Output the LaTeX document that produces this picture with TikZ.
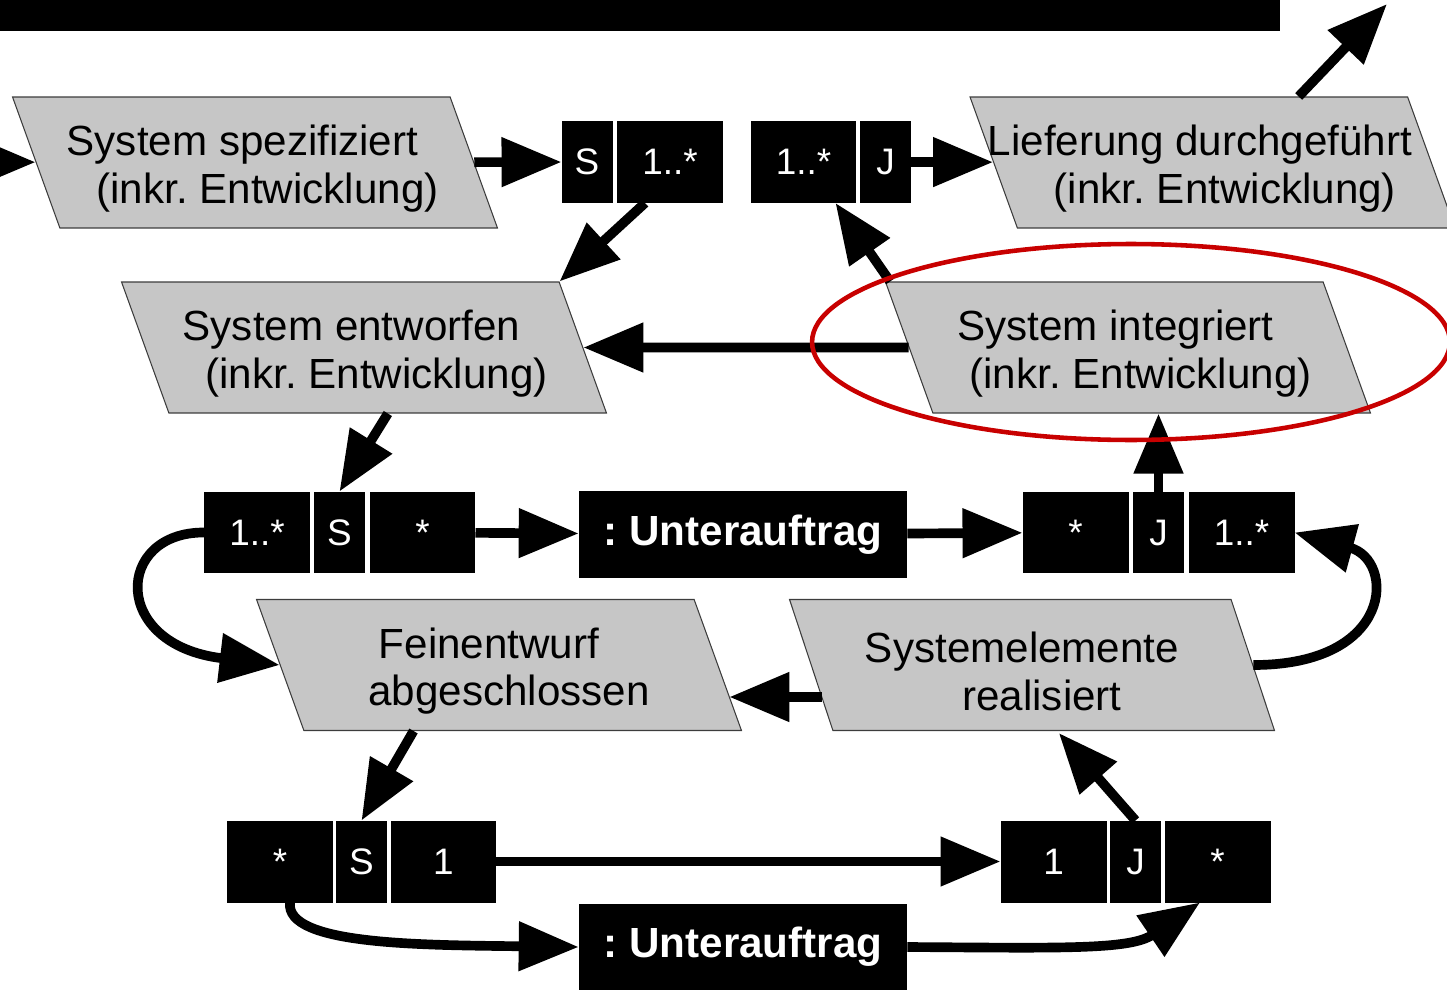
\documentclass[tikz,border=0pt]{standalone}
\usepackage{fontspec}
\setmainfont{Liberation Sans}
\usetikzlibrary{arrows.meta,shapes.geometric,calc}
\definecolor{pgray}{RGB}{198,198,198}
\definecolor{pedge}{RGB}{60,60,60}
\definecolor{hlred}{RGB}{200,0,0}
\frenchspacing
% two text lines, the first shifted left, the second right, as in the slanted boxes
\newcommand\plines[3]{\makebox[7cm]{\rule{0pt}{24.5pt}#1\hspace*{#3}\null}\\\makebox[7cm]{\hspace*{#3}#2}}
\begin{document}
\begin{tikzpicture}[x=0.02cm,y=-0.02cm,
  para/.style={trapezium, trapezium left angle=115.5, trapezium right angle=64.5,
    trapezium stretches body=true, minimum width=9.7cm, minimum height=2.62cm,
    inner sep=0pt, fill=pgray, draw=pedge, line width=0.6pt, align=center,
    font=\fontsize{24}{27}\selectfont},
  cell/.style={fill=black, text=white, minimum height=1.64cm, inner sep=0pt,
    outer sep=0pt, font=\fontsize{21}{24}\selectfont},
  wide/.style={cell, minimum width=2.12cm},
  narrow/.style={cell, minimum width=1.02cm},
  sub/.style={fill=black, text=white, minimum width=6.56cm, minimum height=1.74cm,
    inner sep=0pt, font=\bfseries\fontsize{24}{28}\selectfont},
  arr/.style={line width=5.5pt, -{Triangle[length=1.2cm,width=0.95cm]}},
  hlring/.style={ellipse, draw=hlred, line width=2.6pt, minimum width=12.76cm,
    minimum height=3.92cm, inner sep=0pt},
]
\useasboundingbox (0,0) rectangle (1447,990);
\clip (0,0) rectangle (1447,990);

% top bar
\fill[black] (0,0) rectangle (1280,31);

% parallelograms
\node[para] (p1) at (255,162.5) {\plines{System spezifiziert}{(inkr. Entwicklung)}{0.5cm}};
\node[para] (p2) at (1212.5,162.5) {\plines{Lieferung durchgeführt}{(inkr. Entwicklung)}{0.5cm}};
\node[para] (p3) at (364,347.5) {\plines{System entworfen}{(inkr. Entwicklung)}{0.5cm}};
\node[para] (p4) at (1128,347.5) {\plines{System integriert}{(inkr. Entwicklung)}{0.5cm}};
\node[para] (p5) at (499,665) {\plines{Feinentwurf}{abgeschlossen}{0.4cm}};
\node[para] (p6) at (1032,665) {\plines{Systemelemente}{realisiert}{0.4cm}};

% cell groups
\node[narrow] (g1s) at (587,162) {S};
\node[wide]   (g1a) at (670,162) {1..*};

\node[wide]   (g2a) at (803.5,162) {1..*};
\node[narrow] (g2j) at (885.5,162) {J};

\node[wide]   (g3a) at (257,532.5) {1..*};
\node[narrow] (g3s) at (339.5,532.5) {S};
\node[wide]   (g3c) at (422.5,532.5) {*};

\node[wide]   (g4a) at (1075.5,532.5) {*};
\node[narrow] (g4j) at (1158.5,532.5) {J};
\node[wide]   (g4b) at (1241.5,532.5) {1..*};

\node[wide]   (g5a) at (280,861.5) {*};
\node[narrow] (g5s) at (361.5,861.5) {S};
\node[wide]   (g5c) at (443.5,861.5) {1};

\node[wide]   (g6a) at (1053.5,861.5) {1};
\node[narrow] (g6j) at (1135.5,861.5) {J};
\node[wide]   (g6b) at (1217.5,861.5) {*};

% subcontract boxes
\node[sub] (u1) at (743,534.5) {: Unterauftrag};
\node[sub] (u2) at (743,947) {: Unterauftrag};

% free ends
\coordinate (in0) at (-80,162);
\coordinate (out17) at (1387,4);

% connectors
\draw[arr] (in0) -- (p1);
\draw[arr] (p1) -- (g1s);
\draw[arr] (g2j) -- (p2);
\draw[arr] ($(p2.top side)+(110,0)$) -- (out17);
\draw[arr] ([xshift=-0.5cm]g1a.south) -- (p3.top right corner);
\draw[arr] (p4) -- (p3);
\draw[arr] ([xshift=3pt]p4.top left corner) -- ([xshift=0.64cm]g2a.south);
\draw[arr] (p3.bottom side) -- (g3s.north);
\draw[arr] (g3c) -- (u1);
\draw[arr] (u1) -- (g4a);
\draw[arr] (g4j.north) -- (g4j.north |- p4.bottom side);
\draw[arr] (g3a.west) .. controls (115,532) and (110,645) .. (p5.left side);
\draw[arr] ($(p6.left side)+(11,32)$) -- ($(p5.right side)+(11,32)$);
\draw[arr] (p6.right side) .. controls (1395,665) and (1395,560) .. (g4b.east);
\draw[arr] ($(p5.bottom left corner)+(110,0)$) -- (g5s.north);
\draw[arr] (g5c) -- (g6a);
\draw[arr] (g6j.north) -- ($(p6.bottom side)+(5,2)$);
\draw[arr] ([xshift=0.2cm]g5a.south) .. controls (285,945) and (420,945) .. (u2.west);
\draw[arr] (u2.east) .. controls (1060,948) and (1130,950) .. ([xshift=-0.35cm]g6b.south);

% highlight
\node[hlring] (hl) at (1131,342) {};
\end{tikzpicture}
\end{document}
